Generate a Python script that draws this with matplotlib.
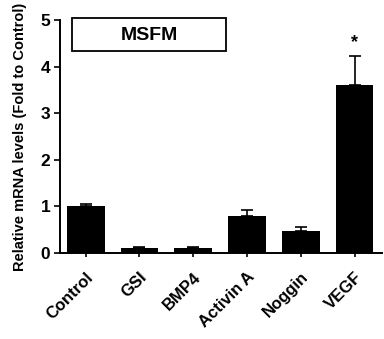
import numpy as np
import matplotlib.pyplot as plt
from matplotlib.patches import Rectangle

plt.rcParams['font.family'] = ['Liberation Sans', 'DejaVu Sans']

# ---------- Data ---------- #
groups = ["Control", "GSI", "BMP4", "Activin A", "Noggin", "VEGF"]
values = [1.0, 0.1, 0.1, 0.8, 0.47, 3.6]
errors = [0.04, 0.02, 0.02, 0.12, 0.08, 0.62]
y_ticks = [0, 1, 2, 3, 4, 5]
title = "MSFM"

# ---------- Plot ---------- #
fig = plt.figure(figsize=(3.84, 3.39), dpi=100)
ax = fig.add_axes([0.156, 0.254, 0.84, 0.687])

x = np.arange(len(groups))
ax.bar(x, values, width=0.7, color="black", zorder=2)
ax.errorbar(x, values, yerr=[np.zeros(len(errors)), errors], fmt="none",
            ecolor="black", elinewidth=1.2, capsize=4, capthick=1.2, zorder=1)

# significance marker on VEGF
ax.text(x[-1], values[-1] + errors[-1] + 0.12, "*", ha="center", va="bottom",
        fontsize=13, fontweight="bold")

ax.set_xlim(-0.48, 5.52)
ax.set_ylim(0, 5)
ax.set_yticks(y_ticks)
ax.set_xticks(x)
ax.set_xticklabels(groups, rotation=45, ha="right", rotation_mode="anchor",
                   fontsize=12, fontweight="bold")
for lab in ax.get_yticklabels():
    lab.set_fontsize(12.5)
    lab.set_fontweight("bold")
ax.tick_params(axis="y", direction="out", width=1.2, length=4, pad=3)
ax.tick_params(axis="x", direction="out", width=1.2, length=3, pad=9)
ax.set_ylabel("Relative mRNA levels (Fold to Control)", fontsize=10.5,
              fontweight="bold", labelpad=10)

for side in ["top", "right"]:
    ax.spines[side].set_visible(False)
for side in ["left", "bottom"]:
    ax.spines[side].set_linewidth(1.4)

# title box (figure coords)
fig.patches.append(Rectangle((72 / 384, 1 - 51 / 339), 154 / 384, 33 / 339,
                             transform=fig.transFigure, facecolor="white",
                             edgecolor="black", linewidth=1.3, zorder=3))
fig.text(149 / 384, 1 - 35 / 339, title, ha="center", va="center",
         fontsize=14, fontweight="bold", zorder=4)

fig.savefig("out.png", dpi=100)
